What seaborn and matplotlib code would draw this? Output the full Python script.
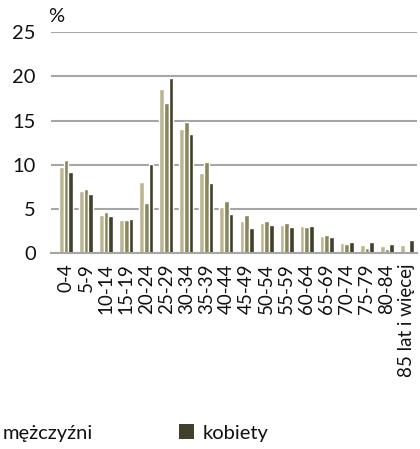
import numpy as np
import pandas as pd
import matplotlib
matplotlib.use("Agg")
import matplotlib.pyplot as plt
import seaborn as sns
from matplotlib.patches import Patch

categories = ["0-4", "5-9", "10-14", "15-19", "20-24", "25-29", "30-34", "35-39",
              "40-44", "45-49", "50-54", "55-59", "60-64", "65-69", "70-74",
              "75-79", "80-84", "85 lat i więcej"]
series_names = ["ogółem", "mężczyźni", "kobiety"]
ogolem = [9.8, 7.05, 4.35, 3.78, 8.07, 18.57, 14.05, 9.09, 5.25, 3.67, 3.44, 3.2, 3.1, 1.97, 1.2, 0.97, 0.86, 0.97]
mezczyzni = [10.55, 7.28, 4.68, 3.78, 5.7, 16.99, 14.84, 10.33, 5.93, 4.35, 3.67, 3.44, 2.99, 2.09, 1.05, 0.6, 0.49, 0.26]
kobiety = [9.2, 6.72, 4.23, 3.9, 10.1, 19.8, 13.49, 7.96, 4.46, 2.88, 3.2, 2.99, 3.1, 1.86, 1.28, 1.28, 1.05, 1.5]
y_ticks = [0, 5, 10, 15, 20, 25]
colors = ["#BBB592", "#8B855A", "#41402A"]

sns.set_style("white")
plt.rcParams["font.family"] = ["Lato", "DejaVu Sans"]
FS = 14.5
FSX = 13.5

df = pd.DataFrame({
    "kat": categories * 3,
    "val": ogolem + mezczyzni + kobiety,
    "seria": [s for s in series_names for _ in categories],
})

fig = plt.figure(figsize=(4.2, 4.49), dpi=100)
ax = fig.add_axes([51/420, 1-253.5/449, (417-51)/420, (253.5-32)/449])

sns.barplot(data=df, x="kat", y="val", hue="seria", order=categories,
            hue_order=series_names, palette=colors, width=0.7, ax=ax,
            saturation=1, legend=False, errorbar=None)

ax.set_ylim(0, 25)
ax.set_xlim(-0.75, 17.5)
ax.set_yticks(y_ticks)
ax.set_yticklabels([str(t) for t in y_ticks], fontsize=FS, color="#111111")
ax.set_xticks(range(len(categories)))
ax.set_xticklabels(categories, rotation=90, fontsize=FSX, color="#111111")
ax.tick_params(axis="both", length=0)
ax.tick_params(axis="y", pad=11)
ax.tick_params(axis="x", pad=7)
ax.set_xlabel("")
ax.set_ylabel("")
for s in ["top", "right", "left"]:
    ax.spines[s].set_visible(False)
ax.spines["bottom"].set_color("#A6A6A6")
ax.spines["bottom"].set_linewidth(1.5)
ax.yaxis.grid(True, color="#A6A6A6", linewidth=1.5)
ax.set_axisbelow(True)

fig.text(48/420, 1-17/449, "%", fontsize=FS, va="center", ha="left", color="#111111")

handles = [Patch(facecolor=c, edgecolor="none") for c in colors]
fig.legend(handles, series_names, loc="center right", ncol=3,
           bbox_to_anchor=(268/420, 1-433/449), frameon=False, fontsize=FS,
           handlelength=0.75, handleheight=0.75, handletextpad=0.4,
           columnspacing=4.25, borderpad=0, borderaxespad=0,
           labelcolor="#111111")

fig.savefig("out.png", dpi=100)
